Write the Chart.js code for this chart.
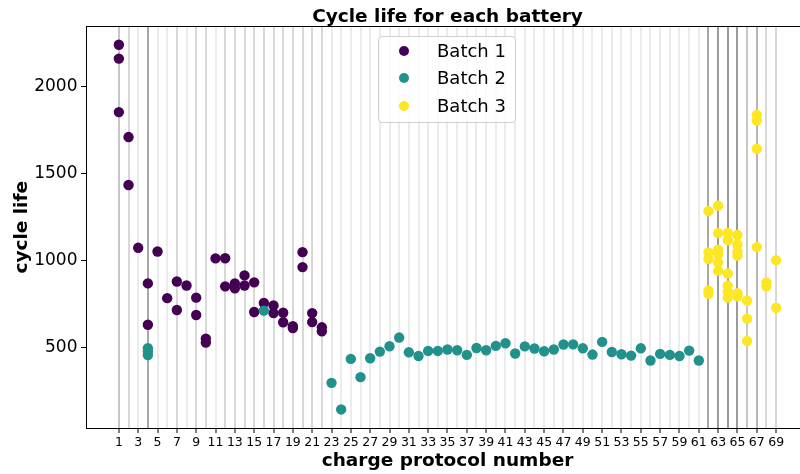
<!DOCTYPE html>
<html>
<head>
<meta charset="utf-8">
<script src="https://cdn.jsdelivr.net/npm/chart.js@4/dist/chart.umd.min.js"></script>
<style>
  body { margin: 0; background: #fff; overflow: hidden; }
  #wrap { position: relative; width: 800px; height: 474px; overflow: hidden; }
  #chart { display: block; }
  #legend {
    position: absolute; left: 378px; top: 36px; width: 138px; height: 87px;
    box-sizing: border-box; border: 1px solid #d0d0d0; border-radius: 4px;
    background: rgba(255, 255, 255, 0.8); padding-top: 0px;
    font-family: 'DejaVu Sans', sans-serif; font-size: 18px; color: #000;
  }
  #legend .row { height: 27.3px; line-height: 27.3px; white-space: nowrap; }
  #legend .dot {
    display: inline-block; width: 10px; height: 10px; border-radius: 50%;
    margin-left: 20px; vertical-align: middle; position: relative; top: -1px;
  }
  #legend .txt { margin-left: 28px; }
</style>
</head>
<body>
<div id="wrap">
  <canvas id="chart" width="895" height="474"></canvas>
  <div id="legend"></div>
</div>
<script>
// Data
const batchLabels = ['Batch 1', 'Batch 2', 'Batch 3'];
const batchColors = ['#440154', '#21918c', '#fde725'];

const batch1Protocol = [1, 1, 1, 2, 2, 3, 4, 4, 5, 6, 7, 7, 8, 9, 9, 10, 10, 11, 12, 12,
  13, 13, 14, 14, 15, 15, 16, 17, 17, 18, 18, 19, 19, 20, 20, 21, 21, 22, 22];
const batch1Life = [2243, 2163, 1855, 1711, 1435, 1073, 868, 630, 1052, 783, 879, 715, 856, 786, 686, 550, 527, 1012, 1013, 851,
  868, 840, 914, 856, 874, 703, 755, 741, 697, 699, 644, 622, 611, 1048, 962, 697, 645, 615, 592];

const batch2Protocol = [4, 4, 4, 16, 23, 24, 25, 26, 27, 28, 29, 30, 31, 32, 33, 34, 35, 36, 37, 38, 39, 40, 41, 42,
  43, 44, 45, 46, 47, 48, 49, 50, 51, 52, 53, 54, 55, 56, 57, 58, 59, 60, 61];
const batch2Life = [495, 475, 455, 711, 295, 142, 433, 328, 437, 475, 506, 556, 471, 450, 479, 479, 487, 483, 456, 496, 483, 508, 523, 464,
  505, 493, 477, 487, 516, 517, 494, 458, 531, 473, 460, 452, 494, 424, 462, 456, 450, 481, 424];

const batch3Protocol = [62, 62, 62, 62, 62, 63, 63, 63, 63, 63, 63, 64, 64, 64, 64, 64, 64, 65, 65, 65, 65, 65, 65,
  66, 66, 66, 67, 67, 67, 67, 68, 68, 69, 69];
const batch3Life = [1284, 1046, 1008, 826, 808, 1316, 1158, 1062, 1036, 988, 940, 1159, 1116, 925, 855, 822, 786, 1147, 1092, 1050, 1028, 812, 793,
  768, 665, 536, 1839, 1806, 1644, 1077, 874, 851, 1002, 728];

const xTicks = [1, 2, 3, 4, 5, 6, 7, 8, 9, 10, 11, 12, 13, 14, 15, 16, 17, 18, 19, 20, 21, 22, 23, 24, 25, 26, 27, 28, 29, 30,
  31, 32, 33, 34, 35, 36, 37, 38, 39, 40, 41, 42, 43, 44, 45, 46, 47, 48, 49, 50, 51, 52, 53, 54, 55, 56, 57, 58, 59, 60,
  61, 62, 63, 64, 65, 66, 67, 68, 69];
const yTicks = [500, 1000, 1500, 2000];

const protocols = [batch1Protocol, batch2Protocol, batch3Protocol];
const lives = [batch1Life, batch2Life, batch3Life];

// one faint vertical line per battery, so busy protocols look darker
const lineCount = {};
protocols.flat().forEach(p => { lineCount[p] = (lineCount[p] || 0) + 1; });

function gridColor(ctx) {
  const n = lineCount[ctx.tick && ctx.tick.value] || 0;
  const a = 1 - Math.pow(1 - 0.08, n);
  return 'rgba(0,0,0,' + a.toFixed(3) + ')';
}

Chart.defaults.font.family = "'DejaVu Sans', sans-serif";
Chart.defaults.color = '#000';

const datasets = batchLabels.map((label, i) => ({
  label: label,
  data: protocols[i].map((p, j) => ({ x: p, y: lives[i][j] })),
  backgroundColor: batchColors[i],
  borderWidth: 0,
  pointRadius: 5.2,
  pointHoverRadius: 5.2,
  order: 3 - i
}));

new Chart(document.getElementById('chart'), {
  type: 'scatter',
  data: { datasets: datasets },
  options: {
    responsive: false,
    animation: false,
    devicePixelRatio: 1,
    layout: { padding: 0 },
    plugins: {
      legend: { display: false },
      tooltip: { enabled: false },
      title: {
        display: true,
        text: 'Cycle life for each battery',
        font: { size: 18.5, weight: 'bold', lineHeight: 1 },
        padding: { top: 8, bottom: 0 },
        color: '#000'
      }
    },
    scales: {
      x: {
        type: 'linear',
        position: 'bottom',
        min: -2.4,
        max: 72.4,
        z: 1,
        afterBuildTicks: axis => { axis.ticks = xTicks.map(v => ({ value: v })); },
        afterFit: axis => { axis.height = 46; },
        ticks: {
          autoSkip: false,
          maxRotation: 0,
          minRotation: 0,
          padding: 2,
          font: { size: 12.5 },
          callback: v => (v % 2 === 1 ? String(v) : '')
        },
        grid: {
          color: gridColor,
          lineWidth: 2,
          tickLength: 5,
          tickWidth: 1,
          tickColor: ctx => (ctx.tick && ctx.tick.value % 2 === 1 ? '#000' : 'rgba(0,0,0,0)')
        },
        border: { color: '#000', width: 1 },
        title: {
          display: true,
          text: 'charge protocol number',
          font: { size: 18.5, weight: 'bold', lineHeight: 1 },
          padding: { top: 0, bottom: 4 }
        }
      },
      xt: {
        type: 'linear',
        position: 'top',
        afterFit: axis => { axis.height = 0; },
        grid: { display: false },
        ticks: { display: false },
        border: { display: true, color: '#000', width: 1 }
      },
      y: {
        type: 'linear',
        position: 'left',
        min: 35,
        max: 2348,
        afterBuildTicks: axis => { axis.ticks = yTicks.map(v => ({ value: v })); },
        afterFit: axis => { axis.width = 86; },
        ticks: { padding: 3.5, font: { size: 17 }, callback: v => String(v) },
        grid: { drawOnChartArea: false, tickLength: 5, tickWidth: 1, tickColor: '#000' },
        border: { color: '#000', width: 1 },
        title: {
          display: true,
          text: 'cycle life',
          font: { size: 18.5, weight: 'bold', lineHeight: 1 },
          padding: { top: 13, bottom: 0 }
        }
      },
      yr: {
        type: 'linear',
        position: 'right',
        afterFit: axis => { axis.width = 86; },
        grid: { display: false },
        ticks: { display: false },
        border: { display: false }
      }
    }
  }
});

// legend box sits inside the plot, like the reference
const legend = document.getElementById('legend');
batchLabels.forEach((label, i) => {
  const row = document.createElement('div');
  row.className = 'row';
  row.innerHTML = '<span class="dot" style="background:' + batchColors[i] + '"></span><span class="txt">' + label + '</span>';
  legend.appendChild(row);
});
</script>
</body>
</html>
